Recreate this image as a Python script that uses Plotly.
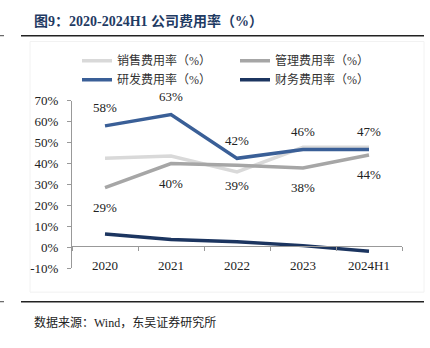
import plotly.graph_objects as go

categories = ["2020", "2021", "2022", "2023", "2024H1"]
sales = [42.5, 43.6, 36.0, 47.8, 47.8]
admin = [28.5, 40.0, 39.2, 37.9, 44.1]
rnd = [58.0, 63.4, 42.5, 46.7, 46.7]
fin = [6.4, 3.7, 2.6, 0.8, -1.9]
rnd_labels = ["58%", "63%", "42%", "46%", "47%"]
admin_labels = ["29%", "40%", "39%", "38%", "44%"]
yticks = [-10, 0, 10, 20, 30, 40, 50, 60, 70]
ytick_text = ["-10%", "0%", "10%", "20%", "30%", "40%", "50%", "60%", "70%"]

W, H = 430, 348
def px_x(p): return p / W
def px_y(p): return 1 - p / H

SERIF = "Liberation Serif, Times New Roman, serif"
CJK = "Liberation Serif, Noto Sans CJK SC, serif"

fig = go.Figure()
series = [
    ("销售费用率（%）", sales, "#d9d9d9"),
    ("管理费用率（%）", admin, "#a6a6a6"),
    ("研发费用率（%）", rnd, "#3a5f97"),
    ("财务费用率（%）", fin, "#1c3560"),
]
for name, vals, col in series:
    fig.add_trace(go.Scatter(x=categories, y=vals, name=name, mode="lines",
                             line=dict(color=col, width=3.5)))

for i, (v, t) in enumerate(zip(rnd, rnd_labels)):
    fig.add_annotation(x=i, y=v, text=t, showarrow=False, yshift=18,
                       font=dict(family=SERIF, size=13, color="#222"))
for i, (v, t) in enumerate(zip(admin, admin_labels)):
    fig.add_annotation(x=i, y=v, text=t, showarrow=False, yshift=-20,
                       font=dict(family=SERIF, size=13, color="#222"))

# title and footer
fig.add_annotation(x=px_x(32), y=px_y(15), xref="paper", yref="paper", xanchor="left", yanchor="middle",
                   text="<b>图9：2020-2024H1 公司费用率（%）</b>", showarrow=False,
                   font=dict(family=CJK, size=14, color="#1f3b63"))
fig.add_annotation(x=px_x(32), y=px_y(330), xref="paper", yref="paper", xanchor="left", yanchor="middle",
                   text="数据来源：Wind，东吴证券研究所", showarrow=False,
                   font=dict(family=CJK, size=12, color="#222"))
for yy in (30, 308):
    fig.add_shape(type="line", xref="paper", yref="paper", x0=px_x(21), x1=px_x(424),
                  y0=px_y(yy), y1=px_y(yy), line=dict(color="#222", width=1.5))
    fig.add_shape(type="line", xref="paper", yref="paper", x0=0, x1=px_x(4),
                  y0=px_y(yy), y1=px_y(yy), line=dict(color="#444", width=1))
fig.add_shape(type="rect", xref="paper", yref="paper", x0=px_x(30), x1=px_x(424),
              y0=px_y(298), y1=px_y(36), line=dict(color="#f2f2f2", width=1), layer="below")

fig.update_layout(
    width=W, height=H, margin=dict(l=0, r=0, t=0, b=0),
    paper_bgcolor="white", plot_bgcolor="white",
    showlegend=True,
    legend=dict(orientation="h", x=px_x(77), y=px_y(41), xanchor="left", yanchor="top",
                entrywidth=113, font=dict(family=CJK, size=12, color="#333"),
                tracegroupgap=0, itemwidth=30, bgcolor="rgba(0,0,0,0)"),
    xaxis=dict(domain=[px_x(72), px_x(402)], range=[-0.5, 4.5], type="category",
               anchor="free", position=px_y(250), showline=True, linecolor="#999", linewidth=1,
               ticks="outside", tickson="boundaries", ticklen=4, tickcolor="#999",
               ticklabelstandoff=7,
               showgrid=False, tickfont=dict(family=SERIF, size=13, color="#222")),
    yaxis=dict(domain=[px_y(273), px_y(98)], range=[-10, 70], tickvals=yticks, ticktext=ytick_text,
               showline=True, linecolor="#999", linewidth=1, ticks="outside", ticklen=4,
               ticklabelstandoff=6,
               tickcolor="#999", showgrid=False, zeroline=False,
               tickfont=dict(family=SERIF, size=13, color="#222")),
)

fig.write_html("out.html")
